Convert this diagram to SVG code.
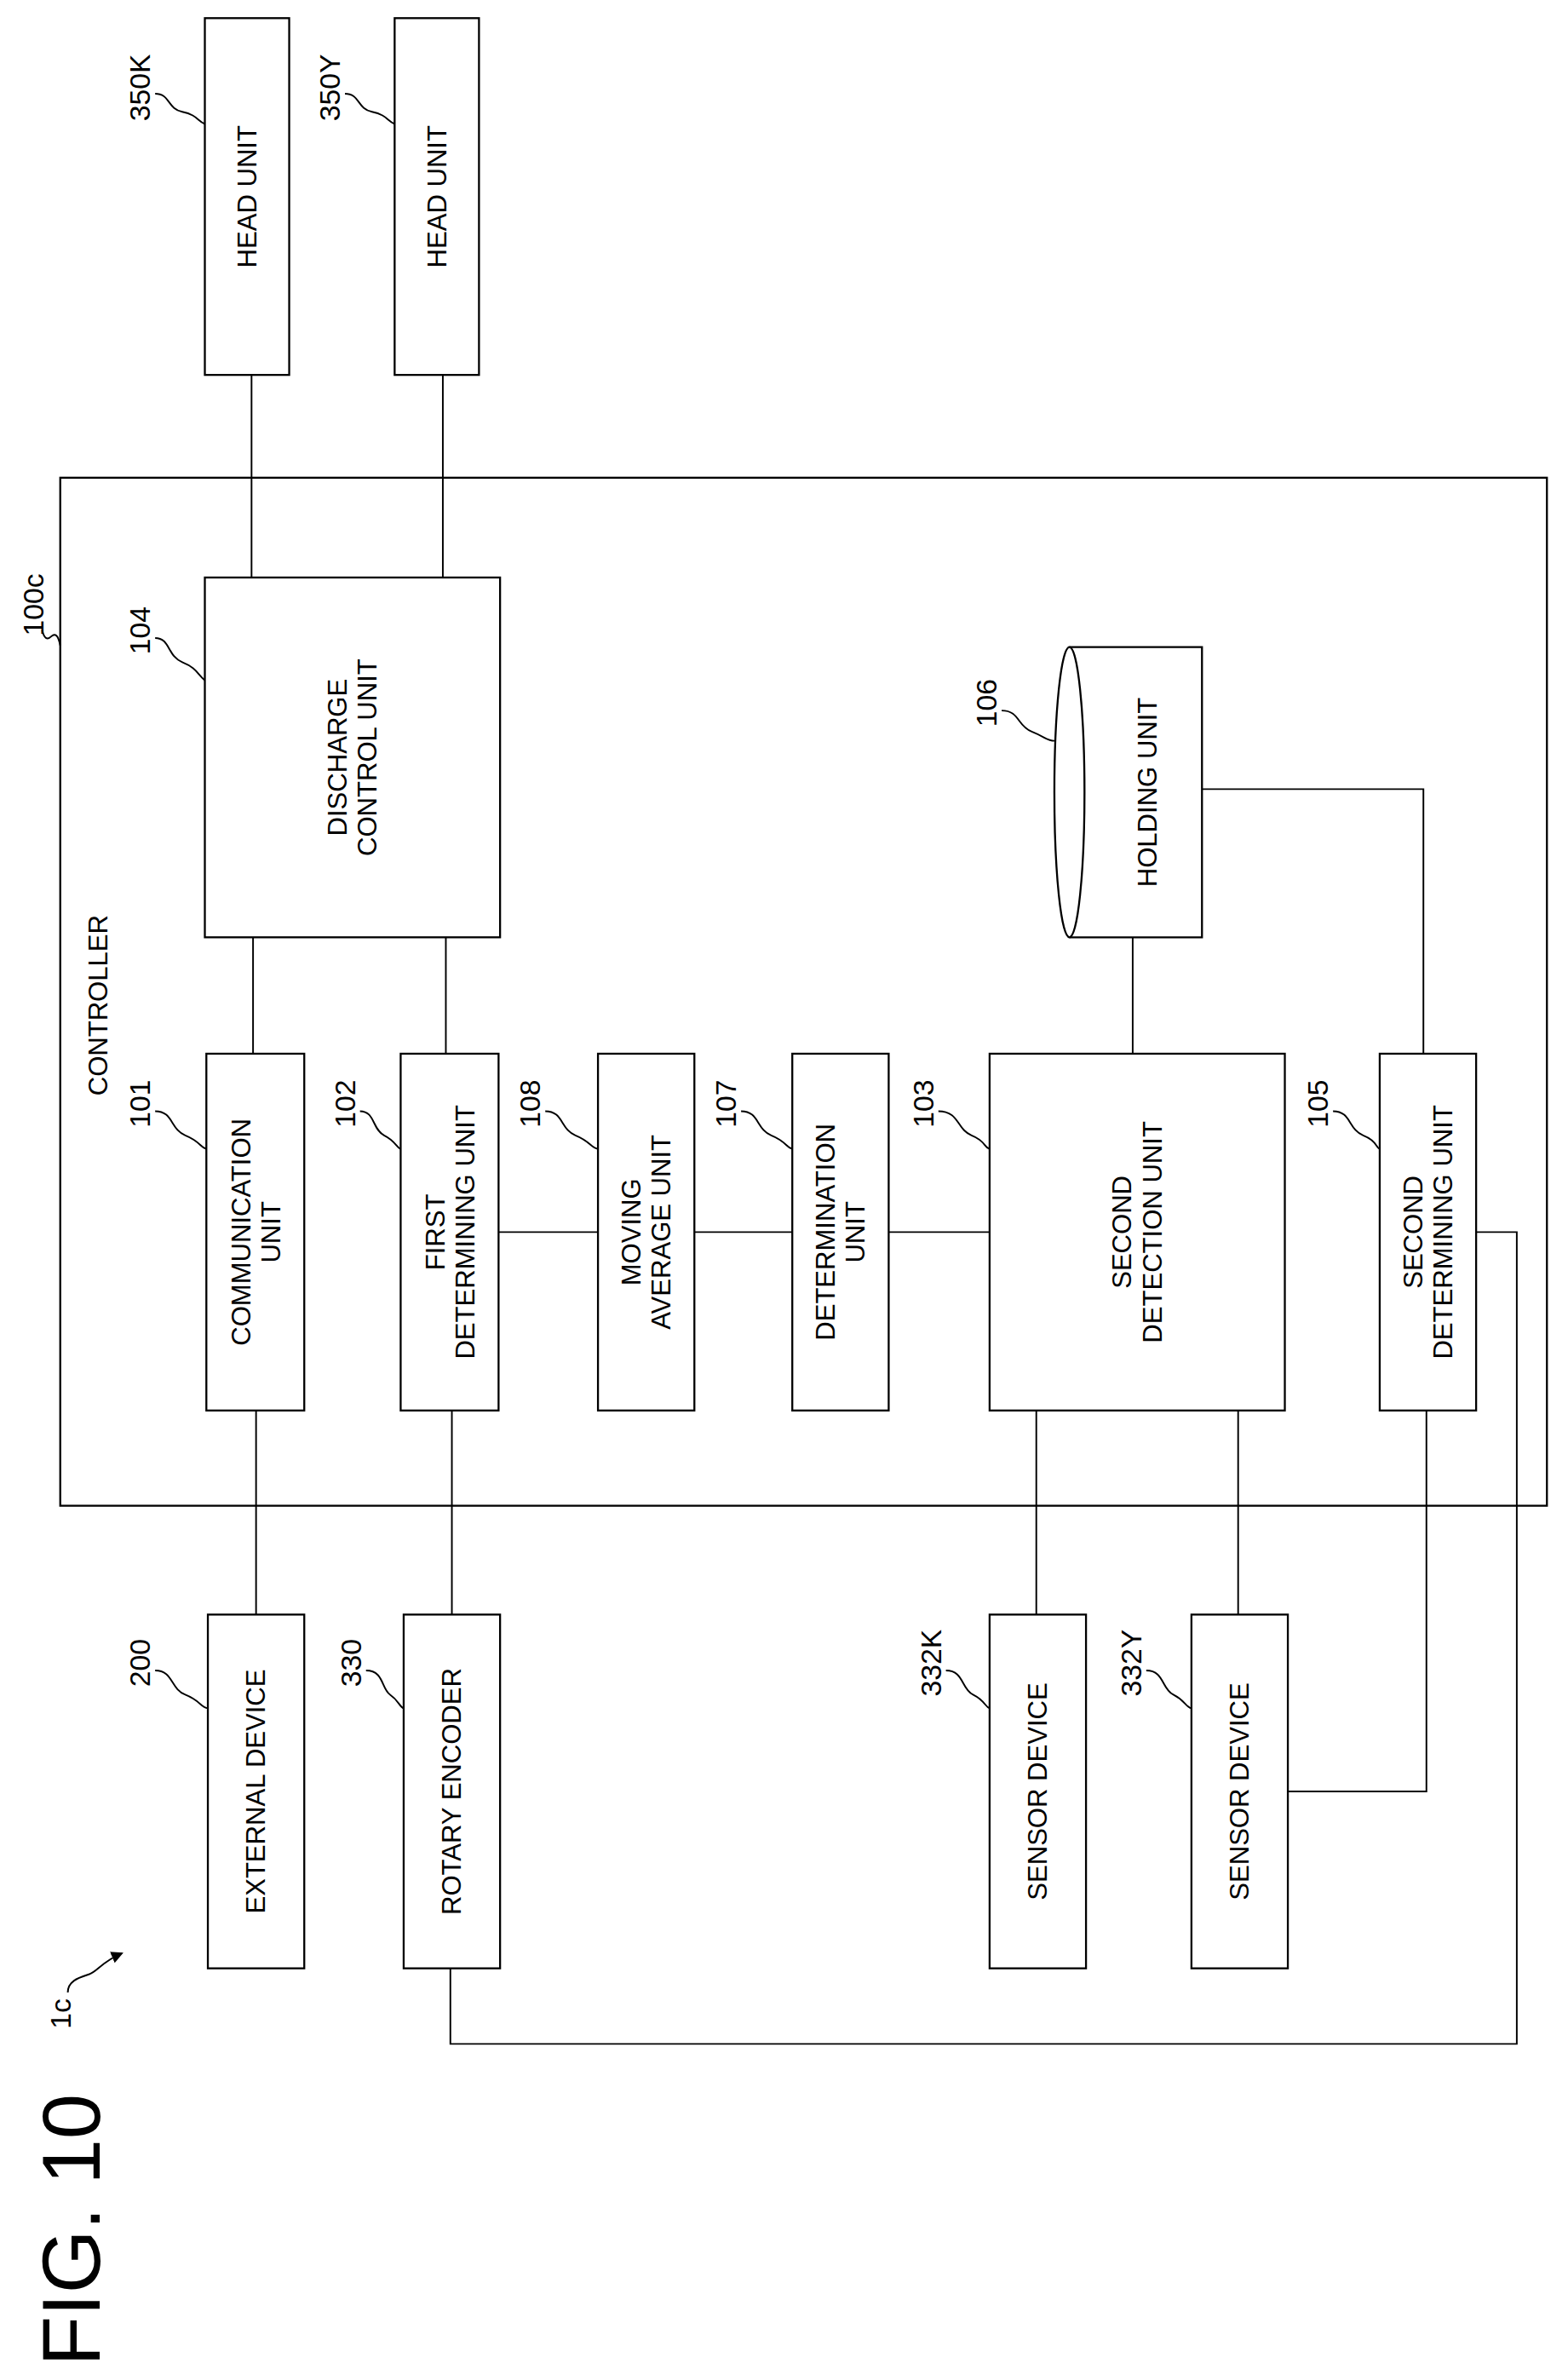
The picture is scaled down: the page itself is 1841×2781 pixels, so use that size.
<svg xmlns="http://www.w3.org/2000/svg" width="1841" height="2781" viewBox="0 0 1841 2781">
<style>
.b{fill:#fff;stroke:#000;stroke-width:1.3}
.l{fill:none;stroke:#000;stroke-width:1.1}
text{font-family:"Liberation Sans",Arial,sans-serif;font-size:17.5px;fill:#000;text-anchor:middle}
.n{font-size:19px}
</style>
<defs><marker id="ah" markerWidth="8" markerHeight="8" refX="7" refY="4" orient="auto" markerUnits="userSpaceOnUse"><path d="M0,0 L8,4 L0,8 Z"/></marker></defs>
<rect width="1841" height="2781" fill="#fff"/>
<g transform="scale(1.7685,1.7747)">
<g id="controller"><rect class="b" x="40" y="316" width="987" height="680" fill="none"/>
<text transform="translate(65,665) rotate(-90)" dy="0.35em">CONTROLLER</text>
<text class="n" transform="translate(22,400) rotate(-90)" dy="0.35em">100c</text><path class="l" d="M28,417 q2,8 6,4 t6,6"/></g>
<g id="connectors" class="l">
<path d="M167,248V382M294,248V382M168,620V697M296,620V697M752,620V697M798,522H945V697"/>
<path d="M331,815H397M461,815H526M590,815H657"/>
<path d="M170,933V1068M300,933V1068M688,933V1068M822,933V1068"/>
<path d="M947,933V1185H855M980,815H1007V1352H299V1302"/>
</g>
<g id="n350K"><rect class="b" x="136" y="12" width="56" height="236"/><text transform="translate(164,130) rotate(-90)" dy="0.35em">HEAD UNIT</text>
<text class="n" transform="translate(93,58) rotate(-90)" dy="0.35em">350K</text><path class="l" d="M103,62 c10,0 8,10 18,12 s10,6 15,8"/></g>
<g id="n350Y"><rect class="b" x="262" y="12" width="56" height="236"/><text transform="translate(290,130) rotate(-90)" dy="0.35em">HEAD UNIT</text>
<text class="n" transform="translate(219,58) rotate(-90)" dy="0.35em">350Y</text><path class="l" d="M229,62 c10,0 8,10 18,12 s10,6 15,8"/></g>
<g id="n104"><rect class="b" x="136" y="382" width="196" height="238"/><text transform="translate(224,501) rotate(-90)" dy="0.35em">DISCHARGE</text><text transform="translate(244,501) rotate(-90)" dy="0.35em">CONTROL UNIT</text>
<text class="n" transform="translate(93,417) rotate(-90)" dy="0.35em">104</text><path class="l" d="M103,422 c10,0 8,12 18,16 s10,8 15,12"/></g>
<g id="n106"><path class="b" d="M710,428H798V620H710"/><ellipse class="b" cx="710" cy="524" rx="10" ry="96"/><text transform="translate(762,524) rotate(-90)" dy="0.35em">HOLDING UNIT</text>
<text class="n" transform="translate(655,465) rotate(-90)" dy="0.35em">106</text><path class="l" d="M665,470 c12,0 10,10 20,14 s10,6 15,6"/></g>
<g id="n101"><rect class="b" x="137" y="697" width="65" height="236"/><text transform="translate(160,815) rotate(-90)" dy="0.35em">COMMUNICATION</text><text transform="translate(180,815) rotate(-90)" dy="0.35em">UNIT</text>
<text class="n" transform="translate(93,730) rotate(-90)" dy="0.35em">101</text><path class="l" d="M103,735 c12,0 10,12 20,16 s10,8 14,9"/></g>
<g id="n102"><rect class="b" x="266" y="697" width="65" height="236"/><text transform="translate(289,815) rotate(-90)" dy="0.35em">FIRST</text><text transform="translate(309,815) rotate(-90)" dy="0.35em">DETERMINING UNIT</text>
<text class="n" transform="translate(229,730) rotate(-90)" dy="0.35em">102</text><path class="l" d="M239,735 c10,0 8,12 16,16 s8,8 11,9"/></g>
<g id="n108"><rect class="b" x="397" y="697" width="64" height="236"/><text transform="translate(419,815) rotate(-90)" dy="0.35em">MOVING</text><text transform="translate(439,815) rotate(-90)" dy="0.35em">AVERAGE UNIT</text>
<text class="n" transform="translate(352,730) rotate(-90)" dy="0.35em">108</text><path class="l" d="M362,735 c12,0 10,12 20,16 s10,8 15,9"/></g>
<g id="n107"><rect class="b" x="526" y="697" width="64" height="236"/><text transform="translate(548,815) rotate(-90)" dy="0.35em">DETERMINATION</text><text transform="translate(568,815) rotate(-90)" dy="0.35em">UNIT</text>
<text class="n" transform="translate(482,730) rotate(-90)" dy="0.35em">107</text><path class="l" d="M492,735 c12,0 10,12 20,16 s10,8 14,9"/></g>
<g id="n103"><rect class="b" x="657" y="697" width="196" height="236"/><text transform="translate(745,815) rotate(-90)" dy="0.35em">SECOND</text><text transform="translate(765,815) rotate(-90)" dy="0.35em">DETECTION UNIT</text>
<text class="n" transform="translate(613,730) rotate(-90)" dy="0.35em">103</text><path class="l" d="M623,735 c14,0 12,12 22,16 s8,8 12,9"/></g>
<g id="n105"><rect class="b" x="916" y="697" width="64" height="236"/><text transform="translate(938,815) rotate(-90)" dy="0.35em">SECOND</text><text transform="translate(958,815) rotate(-90)" dy="0.35em">DETERMINING UNIT</text>
<text class="n" transform="translate(875,730) rotate(-90)" dy="0.35em">105</text><path class="l" d="M885,735 c12,0 10,12 20,16 s8,8 11,9"/></g>
<g id="n200"><rect class="b" x="138" y="1068" width="64" height="234"/><text transform="translate(170,1185) rotate(-90)" dy="0.35em">EXTERNAL DEVICE</text>
<text class="n" transform="translate(93,1100) rotate(-90)" dy="0.35em">200</text><path class="l" d="M103,1105 c12,0 10,12 20,16 s10,8 15,9"/></g>
<g id="n330"><rect class="b" x="268" y="1068" width="64" height="234"/><text transform="translate(300,1185) rotate(-90)" dy="0.35em">ROTARY ENCODER</text>
<text class="n" transform="translate(233,1100) rotate(-90)" dy="0.35em">330</text><path class="l" d="M243,1105 c12,0 10,12 16,16 s6,8 9,9"/></g>
<g id="n332K"><rect class="b" x="657" y="1068" width="64" height="234"/><text transform="translate(689,1185) rotate(-90)" dy="0.35em">SENSOR DEVICE</text>
<text class="n" transform="translate(618,1100) rotate(-90)" dy="0.35em">332K</text><path class="l" d="M628,1105 c12,0 10,12 18,16 s8,8 11,9"/></g>
<g id="n332Y"><rect class="b" x="791" y="1068" width="64" height="234"/><text transform="translate(823,1185) rotate(-90)" dy="0.35em">SENSOR DEVICE</text>
<text class="n" transform="translate(751,1100) rotate(-90)" dy="0.35em">332Y</text><path class="l" d="M761,1105 c12,0 10,12 18,16 s8,8 12,9"/></g>
<g id="fig"><text transform="translate(47,1475) rotate(-90)" dy="0.35em" style="font-size:54px">FIG. 10</text>
<text class="n" transform="translate(40,1332) rotate(-90)" dy="0.35em">1c</text><path class="l" d="M45,1318 c0,-8 8,-10 14,-12 s8,-8 22,-14" marker-end="url(#ah)"/></g>
</g>
</svg>
